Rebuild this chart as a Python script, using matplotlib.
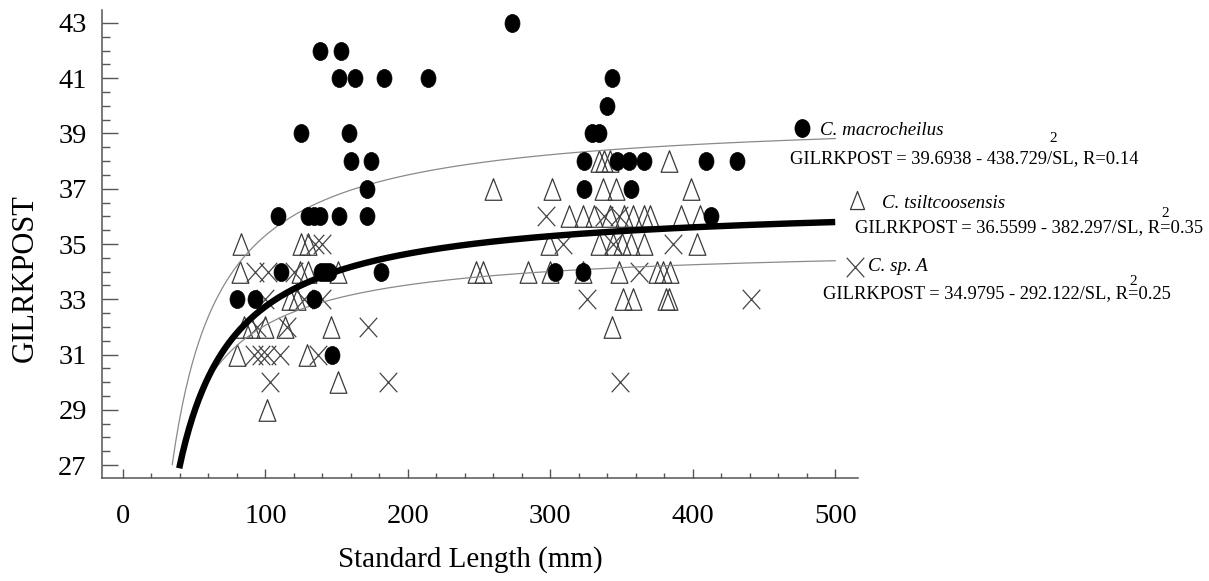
import numpy as np
import matplotlib
matplotlib.use("Agg")
import matplotlib.pyplot as plt
from matplotlib.path import Path
from matplotlib.transforms import Affine2D
from matplotlib.lines import Line2D
from matplotlib.ticker import MultipleLocator

plt.rcParams['font.family'] = ['Liberation Serif', 'DejaVu Serif']

# ---------------- data ----------------
# C. macrocheilus (filled circles)
mac_sl = [273, 138, 153, 152, 163, 183, 214, 340, 343, 125, 159, 329, 334,
          160, 174, 324, 347, 355, 366, 409, 431, 171, 324, 357,
          109, 130, 134, 138, 152, 171, 413,
          111, 139, 142, 145, 181, 303, 323,
          80, 93, 134, 147]
mac_y = [43, 42, 42, 41, 41, 41, 41, 40, 41, 39, 39, 39, 39,
         38, 38, 38, 38, 38, 38, 38, 38, 37, 37, 37,
         36, 36, 36, 36, 36, 36, 36,
         34, 34, 34, 34, 34, 34, 34,
         33, 33, 33, 31]

# C. tsiltcoosensis (open triangles)
tsi_sl = [334, 338, 342, 383,
          260, 301, 337, 346, 399,
          313, 323, 331, 342, 352, 358, 366, 370, 392, 405,
          83, 125, 130, 299, 334, 344, 350, 357, 366, 403,
          82, 124, 130, 151, 248, 253, 284, 300, 323, 348, 375, 379, 384,
          117, 122, 351, 358, 381, 383,
          85, 90, 100, 114, 146, 343,
          80, 129, 151, 101]
tsi_y = [38, 38, 38, 38,
         37, 37, 37, 37, 37,
         36, 36, 36, 36, 36, 36, 36, 36, 36, 36,
         35, 35, 35, 35, 35, 35, 35, 35, 35, 35,
         34, 34, 34, 34, 34, 34, 34, 34, 34, 34, 34, 34, 34,
         33, 33, 33, 33, 33, 33,
         32, 32, 32, 32, 32, 32,
         31, 31, 30, 29]

# C. sp. A (crosses)
spa_sl = [297, 338, 348,
          135, 140, 309, 344, 386,
          93, 102, 120, 362,
          100, 127, 140, 326, 441,
          94, 115, 172,
          92, 97, 101, 110, 137,
          103, 186, 349]
spa_y = [36, 36, 36,
         35, 35, 35, 35, 35,
         34, 34, 34, 34,
         33, 33, 33, 33, 33,
         32, 32, 32,
         31, 31, 31, 31, 31,
         30, 30, 30]

# regression fits  GILRKPOST = a - b/SL
mac_fit = (39.6938, 438.729)
tsi_fit = (36.5599, 382.297)
spa_fit = (34.9795, 292.122)
mac_range = (34.6, 500)
tsi_range = (39.5, 500)
spa_range = (65, 500)

x_ticks = [0, 100, 200, 300, 400, 500]
y_ticks = [27, 29, 31, 33, 35, 37, 39, 41, 43]

# ---------------- markers ----------------
ellipse = Path.unit_circle().transformed(Affine2D().scale(0.83, 1.0))
tri = Path([(0, 1), (-0.78, -1), (0.78, -1), (0, 1)],
           [Path.MOVETO, Path.LINETO, Path.LINETO, Path.CLOSEPOLY])
cross = Path([(-0.9, -1), (0.9, 1), (-0.9, 1), (0.9, -1)],
             [Path.MOVETO, Path.LINETO, Path.MOVETO, Path.LINETO])

W, H = 1209, 581
fig = plt.figure(figsize=(W / 100, H / 100), dpi=100)
ax = fig.add_axes([102 / W, 1 - 478 / H, (858 - 102) / W, (478 - 10) / H])

ax.plot(tsi_sl, tsi_y, linestyle='none', marker=tri, markersize=15.5,
        markerfacecolor='none', markeredgecolor='#3a3a3a', markeredgewidth=0.9, zorder=2)
ax.plot(spa_sl, spa_y, linestyle='none', marker=cross, markersize=14,
        markerfacecolor='none', markeredgecolor='#444444', markeredgewidth=0.9, zorder=2)

def curve(fit, rng):
    x = np.linspace(rng[0], rng[1], 400)
    return x, fit[0] - fit[1] / x

x, y = curve(mac_fit, mac_range)
ax.plot(x, y, color='#8a8a8a', lw=0.9, zorder=3)
x, y = curve(spa_fit, spa_range)
ax.plot(x, y, color='#8a8a8a', lw=0.9, zorder=3)
x, y = curve(tsi_fit, tsi_range)
ax.plot(x, y, color='black', lw=4.6, zorder=4, solid_capstyle='butt')

ax.plot(mac_sl, mac_y, linestyle='none', marker=ellipse, markersize=13,
        markerfacecolor='black', markeredgecolor='black', markeredgewidth=0.5, zorder=5)

ax.set_xlim(-14.7, 516)
ax.set_ylim(26.53, 43.47)
ax.set_xticks(x_ticks)
ax.set_yticks(y_ticks)
ax.xaxis.set_minor_locator(MultipleLocator(20))
ax.yaxis.set_minor_locator(MultipleLocator(0.5))
for s in ['top', 'right']:
    ax.spines[s].set_visible(False)
for s in ['left', 'bottom']:
    ax.spines[s].set_color('#555555')
    ax.spines[s].set_linewidth(1.1)
ax.tick_params(axis='y', which='major', direction='in', length=11.5, width=1, color='#555555',
               labelsize=20.5, pad=11)
ax.tick_params(axis='y', which='minor', direction='in', length=6, width=1, color='#555555')
ax.tick_params(axis='x', which='major', direction='in', length=6.5, width=1, color='#555555',
               labelsize=20.5, pad=19)
ax.tick_params(axis='x', which='minor', direction='in', length=3.6, width=1, color='#555555')

ax.set_xlabel('Standard Length (mm)', fontsize=21)
ax.set_ylabel('GILRKPOST', fontsize=22)
ax.xaxis.set_label_coords((470 - 102) / 756, (478 - 560) / 468)
ax.yaxis.set_label_coords((25 - 102) / 756, (478 - 278) / 468)
ax.xaxis.label.set_va('center')
ax.yaxis.label.set_va('center')

# ---------------- legend-like annotations (figure pixel coords) ----------------
def fx(px):
    return px / W

def fy(py):
    return 1 - py / H

fig.add_artist(Line2D([fx(801.7)], [fy(128)], transform=fig.transFigure, linestyle='none',
                      marker=ellipse, markersize=12.5, markerfacecolor='black', markeredgecolor='black'))
fig.add_artist(Line2D([fx(857)], [fy(200)], transform=fig.transFigure, linestyle='none',
                      marker=tri, markersize=13, markerfacecolor='none',
                      markeredgecolor='#3a3a3a', markeredgewidth=0.9))
fig.add_artist(Line2D([fx(855)], [fy(266.7)], transform=fig.transFigure, linestyle='none',
                      marker=cross, markersize=14, markerfacecolor='none',
                      markeredgecolor='#444444', markeredgewidth=0.9))

fs = 13.3
fig.text(fx(820), fy(135), 'C. macrocheilus', fontsize=fs + 0.4, style='italic', va='baseline')
fig.text(fx(790), fy(163), 'GILRKPOST = 39.6938 - 438.729/SL, R=0.14', fontsize=fs, va='baseline')
fig.text(fx(1053), fy(139), '2', fontsize=11, va='center', ha='center')

fig.text(fx(881.7), fy(208), 'C. tsiltcoosensis', fontsize=fs + 0.4, style='italic', va='baseline')
fig.text(fx(855), fy(232.5), 'GILRKPOST = 36.5599 - 382.297/SL, R=0.35', fontsize=fs, va='baseline')
fig.text(fx(1165), fy(214), '2', fontsize=11, va='center', ha='center')

fig.text(fx(868), fy(271), 'C. sp. A', fontsize=fs + 0.4, style='italic', va='baseline')
fig.text(fx(823), fy(298), 'GILRKPOST = 34.9795 - 292.122/SL, R=0.25', fontsize=fs, va='baseline')
fig.text(fx(1133), fy(281), '2', fontsize=11, va='center', ha='center')

fig.savefig('out.png', dpi=100)
